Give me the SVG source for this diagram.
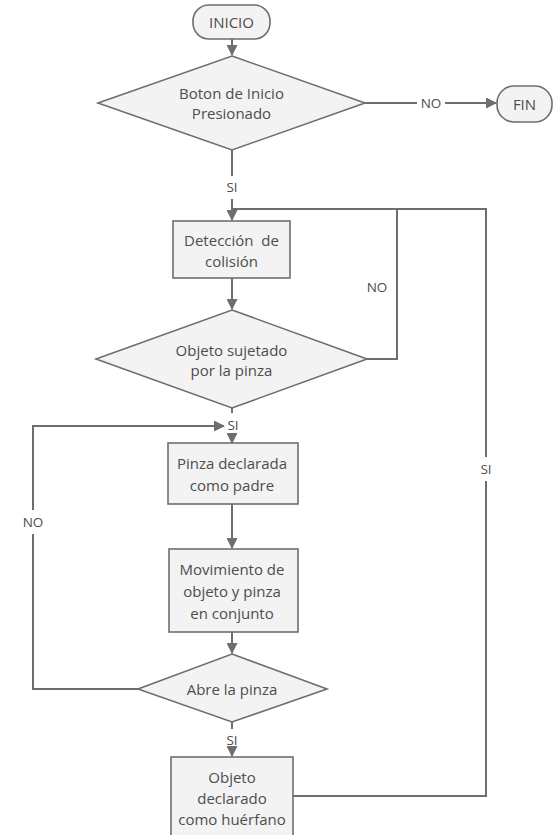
<svg xmlns="http://www.w3.org/2000/svg" width="556" height="835" viewBox="0 0 556 835">
<defs>
<marker id="ah" markerUnits="userSpaceOnUse" markerWidth="11" markerHeight="11" refX="10" refY="5.5" orient="auto">
<path d="M0,0 L11,5.5 L0,11 z" fill="#6e6e6e"/>
</marker>
<style>
.n{fill:#f3f3f3;stroke:#6e6e6e;stroke-width:1.6}
.c{fill:none;stroke:#6e6e6e;stroke-width:2}
.t{font-family:"Open Sans","Noto Sans",sans-serif;font-size:15px;fill:#4d4d4d;text-anchor:middle;dominant-baseline:central}
.l{font-family:"Open Sans","Noto Sans",sans-serif;font-size:13.5px;fill:#4d4d4d;text-anchor:middle;dominant-baseline:central}
</style>
</defs>
<rect width="556" height="835" fill="#ffffff"/>
<g id="connectors">
<path class="c" d="M232,39 V55" marker-end="url(#ah)"/>
<path class="c" d="M365,103 H417 M445,103 H496" marker-end="url(#ah)"/>
<path class="c" d="M232,150 V176 M232,199 V220" marker-end="url(#ah)"/>
<path class="c" d="M232,209 H486 V796 H293"/>
<path class="c" d="M367,359 H397 V209"/>
<path class="c" d="M232,278 V309" marker-end="url(#ah)"/>
<path class="c" d="M232,408 V413"/>
<path class="c" d="M232,434 V443" marker-end="url(#ah)"/>
<path class="c" d="M138,689 H33 V426 H224" marker-end="url(#ah)"/>
<path class="c" d="M232,504 V548" marker-end="url(#ah)"/>
<path class="c" d="M232,632 V653" marker-end="url(#ah)"/>
<path class="c" d="M232,722 V729 M232,750 V756" marker-end="url(#ah)"/>
<rect x="20" y="510" width="26" height="24" fill="#ffffff"/>
<rect x="474" y="457" width="24" height="24" fill="#ffffff"/>
<text class="l" x="431" y="103">NO</text>
<text class="l" x="232" y="187">SI</text>
<text class="l" x="377" y="287">NO</text>
<text class="l" x="233" y="425">SI</text>
<text class="l" x="33" y="522">NO</text>
<text class="l" x="486" y="469">SI</text>
<text class="l" x="232" y="740">SI</text>
</g>
<g id="inicio">
<rect class="n" x="193" y="5" width="77" height="34" rx="16"/>
<text class="t" x="231.5" y="22">INICIO</text>
</g>
<g id="fin">
<rect class="n" x="497" y="86" width="55" height="36" rx="17"/>
<text class="t" x="524.5" y="104">FIN</text>
</g>
<g id="boton">
<polygon class="n" points="232,56 365,103 232,150 98,103"/>
<text class="t" x="231.5" y="93">Boton de Inicio</text>
<text class="t" x="231.5" y="113">Presionado</text>
</g>
<g id="deteccion">
<rect class="n" x="173" y="221" width="117" height="57"/>
<text class="t" x="231.5" y="240" xml:space="preserve">Detección  de</text>
<text class="t" x="231.5" y="261">colisión</text>
</g>
<g id="sujetado">
<polygon class="n" points="232,310 367,359 232,408 96,359"/>
<text class="t" x="231.5" y="350">Objeto sujetado</text>
<text class="t" x="231.5" y="370">por la pinza</text>
</g>
<g id="padre">
<rect class="n" x="168" y="443" width="130" height="61"/>
<text class="t" x="232" y="463">Pinza declarada</text>
<text class="t" x="232" y="485">como padre</text>
</g>
<g id="movimiento">
<rect class="n" x="169" y="549" width="129" height="83"/>
<text class="t" x="232" y="569">Movimiento de</text>
<text class="t" x="232" y="591">objeto y pinza</text>
<text class="t" x="232" y="613">en conjunto</text>
</g>
<g id="abre">
<polygon class="n" points="232,654 327,689 232,722 138,689"/>
<text class="t" x="232" y="689">Abre la pinza</text>
</g>
<g id="huerfano">
<rect class="n" x="171" y="757" width="122" height="90"/>
<text class="t" x="232" y="777">Objeto</text>
<text class="t" x="232" y="798">declarado</text>
<text class="t" x="232" y="819">como huérfano</text>
</g>
</svg>
